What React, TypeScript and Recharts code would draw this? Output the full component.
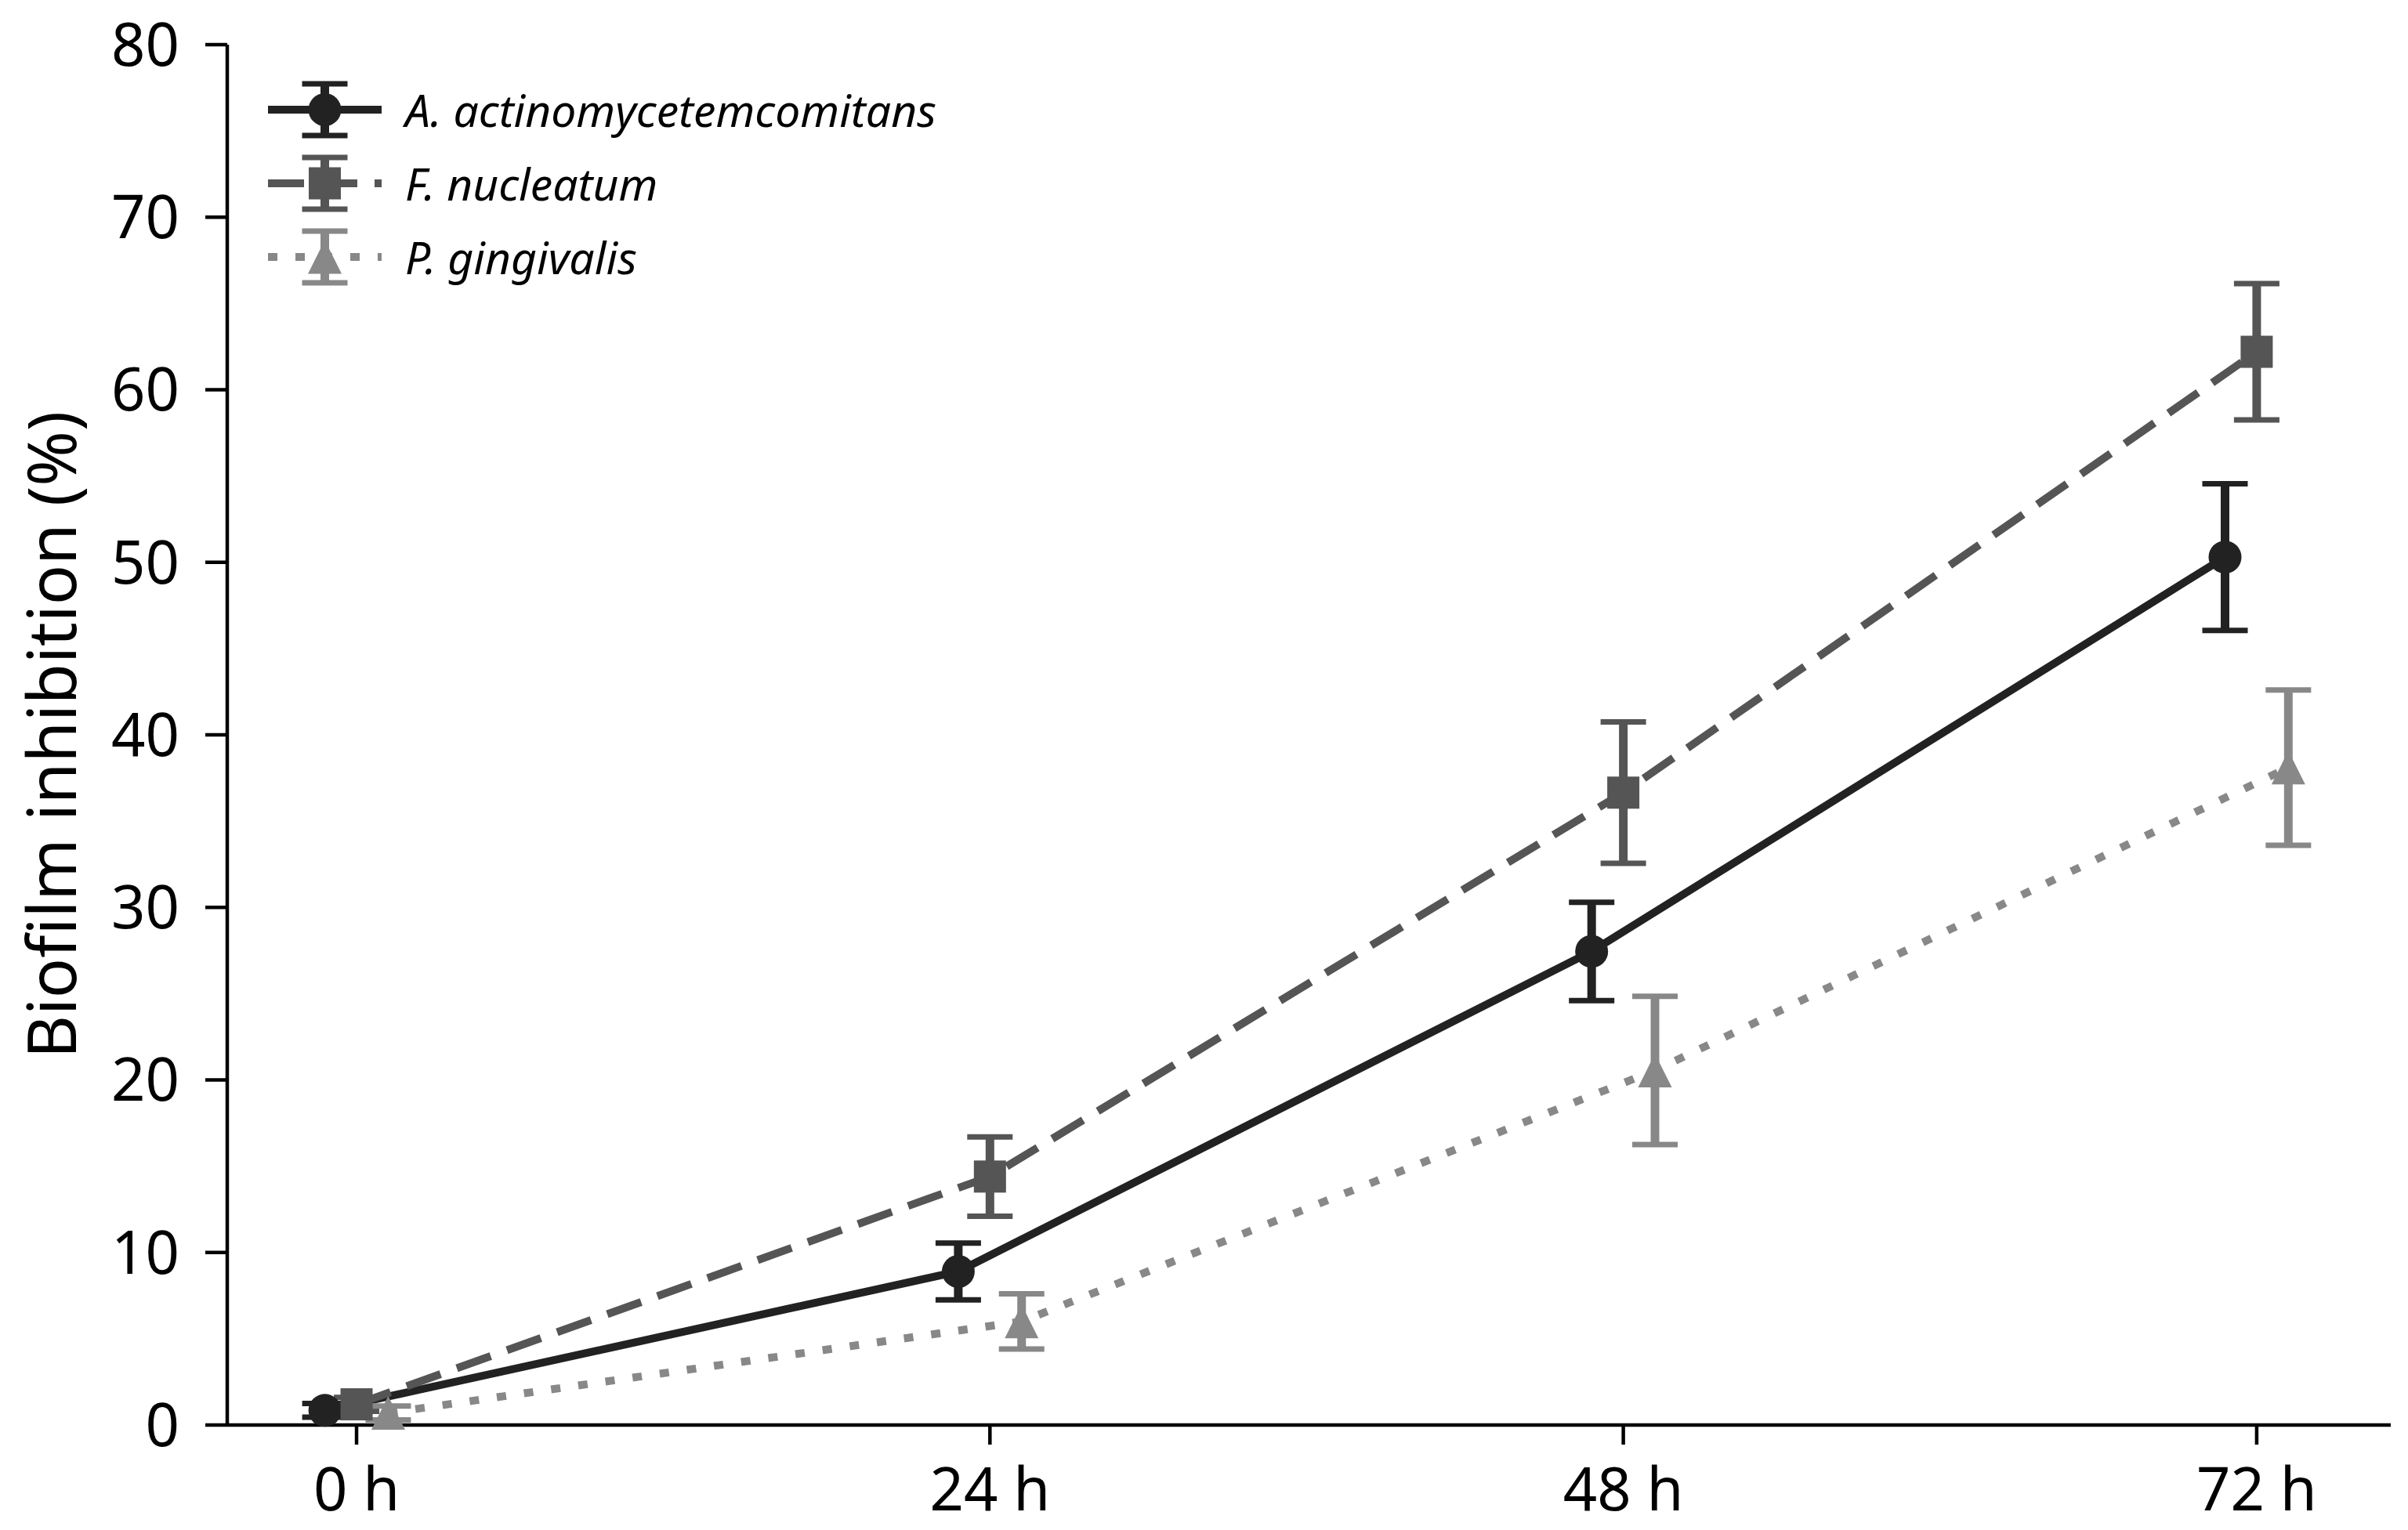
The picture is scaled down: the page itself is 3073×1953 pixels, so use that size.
import { ErrorBar, Label, Legend, Line, LineChart, XAxis, YAxis } from "recharts";

// sampling times (h) and axis ticks
const hours = [0, 24, 48, 72];
const hourTicks = [0, 24, 48, 72];
const inhibitionTicks = [0, 10, 20, 30, 40, 50, 60, 70, 80];

// biofilm inhibition (%), mean and SD per species
const aaMean = [0.85, 8.9, 27.45, 50.3];
const aaSd = [0.4, 1.65, 2.85, 4.25];
const fnMean = [1.2, 14.4, 36.65, 62.2];
const fnSd = [0.4, 2.3, 4.1, 3.95];
const pgMean = [0.7, 6.0, 20.55, 38.1];
const pgSd = [0.4, 1.6, 4.3, 4.5];

const seriesNames = ["A. actinomycetemcomitans", "F. nucleatum", "P. gingivalis"];

const FONT = "'Noto Sans', sans-serif";
const LINE_W = 10;
const CAP_HALF = 29;
const ROW_H = 94;

type Marker = "circle" | "square" | "triangle";

interface SeriesStyle {
  name: string;
  color: string;
  dash?: string;
  marker: Marker;
  dodge: number;
  mean: number[];
  sd: number[];
}

const series: SeriesStyle[] = [
  { name: seriesNames[0], color: "#222222", marker: "circle", dodge: -1.2, mean: aaMean, sd: aaSd },
  { name: seriesNames[1], color: "#555555", dash: "46 22", marker: "square", dodge: 0, mean: fnMean, sd: fnSd },
  { name: seriesNames[2], color: "#888888", dash: "12 23", marker: "triangle", dodge: 1.2, mean: pgMean, sd: pgSd },
];

function markerShape(marker: Marker, cx: number, cy: number, color: string, key?: number) {
  if (marker === "circle") return <circle key={key} cx={cx} cy={cy} r={21} fill={color} />;
  if (marker === "square")
    return <rect key={key} x={cx - 20.5} y={cy - 20.5} width={41} height={41} fill={color} />;
  return (
    <polygon
      key={key}
      points={`${cx},${cy - 21.5} ${cx - 21.5},${cy + 21.5} ${cx + 21.5},${cy + 21.5}`}
      fill={color}
    />
  );
}

function LegendBox({ payload }: any) {
  const items = (payload ?? []).map((p: any) => series.find((s) => s.name === p.value)).filter(Boolean);
  const mid = ROW_H / 2;
  return (
    <div style={{ fontFamily: FONT }}>
      {items.map((s: SeriesStyle) => (
        <div key={s.name} style={{ display: "flex", alignItems: "center", height: ROW_H }}>
          <svg width={145} height={ROW_H}>
            <line x1={0} y1={mid} x2={145} y2={mid} stroke={s.color} strokeWidth={LINE_W} strokeDasharray={s.dash} />
            <line x1={72.5} y1={mid - 33} x2={72.5} y2={mid + 33} stroke={s.color} strokeWidth={11} />
            <line x1={72.5 - CAP_HALF} y1={mid - 33} x2={72.5 + CAP_HALF} y2={mid - 33} stroke={s.color} strokeWidth={7} />
            <line x1={72.5 - CAP_HALF} y1={mid + 33} x2={72.5 + CAP_HALF} y2={mid + 33} stroke={s.color} strokeWidth={7} />
            {markerShape(s.marker, 72.5, mid, s.color)}
          </svg>
          <span style={{ marginLeft: 30, fontSize: 57, fontStyle: "italic", color: "#000", lineHeight: 1 }}>
            {s.name}
          </span>
        </div>
      ))}
    </div>
  );
}

export default function App() {
  const axisStroke = { stroke: "#000", strokeWidth: 4.5 };
  const tickStyle = { fill: "#000", fontSize: 76, fontFamily: FONT };
  return (
    <div style={{ position: "absolute", left: 0, top: 0, width: 3073, height: 1953, background: "#fff" }}>
      <LineChart width={3073} height={1953} margin={{ top: 57, right: 22, left: 0, bottom: 0 }}>
        <XAxis
          type="number"
          dataKey="x"
          domain={[-4.9, 77.08]}
          ticks={hourTicks}
          tickFormatter={(v) => `${v} h`}
          allowDataOverflow
          height={134}
          tickSize={25}
          tickMargin={30}
          axisLine={axisStroke}
          tickLine={axisStroke}
          tick={tickStyle}
        />
        <YAxis
          type="number"
          domain={[0, 80]}
          ticks={inhibitionTicks}
          width={290}
          tickSize={28}
          tickMargin={33}
          axisLine={axisStroke}
          tickLine={axisStroke}
          tick={tickStyle}
        >
          <Label
            content={({ viewBox }: any) => {
              const cy = viewBox.y + viewBox.height / 2;
              return (
                <text
                  x={67}
                  y={cy}
                  dy="0.355em"
                  transform={`rotate(-90, 67, ${cy})`}
                  textAnchor="middle"
                  fontSize={85}
                  fontFamily={FONT}
                  fill="#000"
                >
                  Biofilm inhibition (%)
                </text>
              );
            }}
          />
        </YAxis>
        <Legend
          layout="vertical"
          verticalAlign="middle"
          align="center"
          wrapperStyle={{ left: 342, top: 93, width: 900 }}
          content={LegendBox}
        />
        {series.map((s) => (
          <Line
            key={s.name}
            name={s.name}
            data={hours.map((h, i) => ({ x: h + s.dodge, mean: s.mean[i], sd: s.sd[i] }))}
            dataKey="mean"
            type="linear"
            stroke={s.color}
            strokeWidth={LINE_W}
            strokeDasharray={s.dash}
            dot={(p: any) => markerShape(s.marker, p.cx, p.cy, s.color, p.index)}
            activeDot={false}
            isAnimationActive={false}
          >
            <ErrorBar dataKey="sd" direction="y" width={0} stroke={s.color} strokeWidth={11} isAnimationActive={false} />
            <ErrorBar dataKey="sd" direction="y" width={CAP_HALF} stroke={s.color} strokeWidth={7} isAnimationActive={false} />
          </Line>
        ))}
      </LineChart>
    </div>
  );
}
